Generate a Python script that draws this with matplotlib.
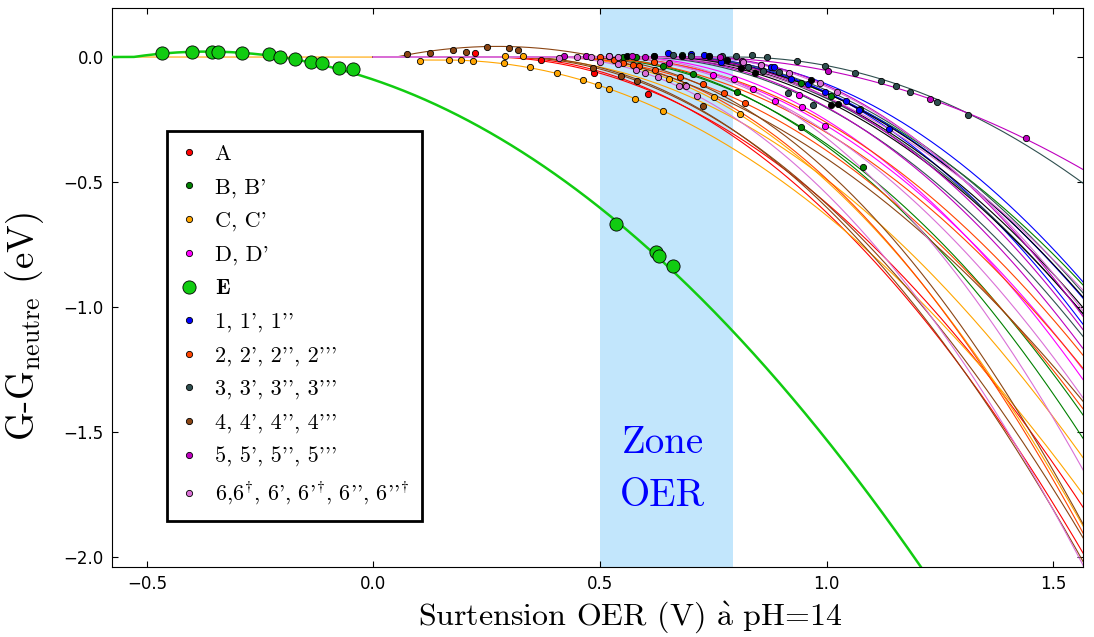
import numpy as np
import matplotlib
matplotlib.use("Agg")
import matplotlib.pyplot as plt
from matplotlib.lines import Line2D

plt.rcParams['mathtext.fontset'] = 'cm'
plt.rcParams['axes.unicode_minus'] = True

# legend groups
groups = ['A', 'B', 'C', 'D', 'E', '1', '2', '3', '4', '5', '6']
labels = ["A", "B, B'", "C, C'", "D, D'", r"$\mathbf{E}$", "1, 1', 1''",
          "2, 2', 2'', 2'''", "3, 3', 3'', 3'''", "4, 4', 4'', 4'''",
          "5, 5', 5'', 5'''",
          r"6,$6^{\dagger}$, 6', 6'$^{\dagger}$, 6'', 6''$^{\dagger}$"]
colors = {'A': 'red', 'B': 'green', 'C': 'orange', 'D': 'magenta', 'E': '#11cc11',
          '1': 'blue', '2': 'orangered', '3': 'darkslategray', '4': 'saddlebrown',
          '5': 'm', '6': 'orchid', 'k': 'black'}

# fitted curves: G = offset + slope*d - curv*d^2, d = max(x - onset, 0)
curve_group  = ['A', 'A', 'B', 'B', 'B', 'C', 'C', 'C', 'D', 'D',
                '1', '1', '1', '2', '2', '2', '2', '3', '3', '3', '3',
                'k', 'k', 'k', '4', '4', '4', '4', '5', '5', '5', '5',
                '6', '6', '6', '6', '6']
curve_start  = [0.0, 0.0, 0.0, 0.0, 0.0, 0.102, 0.0, -0.58, 0.0, 0.0,
                0.0, 0.0, 0.0, 0.0, 0.0, 0.0, 0.0, 0.0, 0.0, 0.0, 0.0,
                0.0, 0.0, 0.0, 0.03, 0.0, 0.0, 0.0, 0.0, 0.0, 0.0, 0.0,
                0.0, 0.0, 0.0, 0.0, 0.0]
curve_onset  = [0.25, 0.28, 0.47, 0.625, 0.45, 0.157, 0.40, 0.30, 0.50, 0.55,
                0.70, 0.676, 0.65, 0.397, 0.50, 0.45, 0.42, 0.80, 0.58, 0.62, 0.66,
                0.64, 0.62, 0.60, 0.05, 0.30, 0.32, 0.45, 0.70, 0.72, 0.65, 0.60,
                0.39, 0.705, 0.60, 0.50, 0.55]
curve_curv   = [1.04, 1.20, 1.27, 1.03, 1.15, 0.875, 1.38, 1.00, 1.10, 1.25,
                1.20, 1.35, 1.15, 1.03, 1.05, 1.00, 1.45, 0.86, 1.15, 1.15, 1.15,
                1.12, 1.12, 1.10, 0.85, 1.20, 1.30, 1.50, 0.60, 1.45, 1.30, 1.25,
                1.47, 1.37, 1.00, 1.20, 1.60]
curve_slope  = [0.0] * 24 + [0.38] + [0.0] * 12
curve_offset = [0.0] * 5 + [-0.012] + [0.0] * 31

# curve E
E_onset, E_slope, E_curv = -0.53, 0.269, 0.83

# data points per group
pts_x = {
    'A': [0.225, 0.37, 0.486, 0.605],
    'B': [0.55, 0.58, 0.68, 0.638, 0.705, 0.803, 0.944, 1.009, 1.074, 0.944, 1.08],
    'C': [0.102, 0.166, 0.194, 0.219, 0.289, 0.346, 0.405, 0.462, 0.496, 0.52, 0.578, 0.64,
          0.653, 0.688, 0.751, 0.808, 0.29, 0.33],
    'D': [0.796, 0.837, 0.887, 0.945, 0.996, 0.938, 0.75],
    'E': [-0.466, -0.40, -0.356, -0.344, -0.29, -0.23, -0.207, -0.173, -0.137, -0.113,
          -0.077, -0.046, 0.536, 0.623, 0.631, 0.662],
    '1': [0.65, 0.70, 0.73, 0.767, 0.878, 0.885, 0.922, 0.959, 0.996, 1.042, 1.071, 1.138],
    '2': [0.55, 0.572, 0.587, 0.619, 0.622, 0.676, 0.727, 0.773, 0.821, 0.50, 0.53],
    '3': [0.62, 0.66, 0.70, 0.74, 0.77, 0.80, 0.835, 0.868, 0.935, 0.996, 1.062, 1.121,
          1.154, 1.185, 1.244, 1.313, 0.826, 0.86, 0.896, 0.915, 0.97],
    'k': [0.56, 0.62, 0.68, 0.74, 0.78, 0.811, 0.843, 0.966, 1.009, 1.025],
    '4': [0.075, 0.124, 0.175, 0.205, 0.25, 0.298, 0.32, 0.484, 0.547, 0.581, 0.727],
    '5': [0.42, 0.47, 0.52, 0.57, 0.60, 0.653, 0.764, 0.814, 0.855, 1.003, 1.229, 1.441],
    '6': [0.41, 0.45, 0.48, 0.52, 0.54, 0.499, 0.539, 0.58, 0.60, 0.628, 0.675, 0.69,
          0.715, 0.815, 0.856, 0.918, 0.985, 1.022],
}
pts_y = {
    'A': [0.016, -0.012, -0.065, -0.149],
    'B': [0.002, 0.0, 0.01, -0.036, -0.068, -0.141, -0.105, -0.156, -0.208, -0.281, -0.44],
    'C': [-0.016, -0.012, -0.012, -0.016, -0.025, -0.04, -0.063, -0.092, -0.11, -0.128,
          -0.168, -0.215, -0.088, -0.113, -0.161, -0.228, 0.003, 0.004],
    'D': [-0.088, -0.128, -0.175, -0.199, -0.276, -0.152, -0.072],
    'E': [0.015, 0.019, 0.021, 0.019, 0.015, 0.011, 0.001, -0.009, -0.021, -0.025,
          -0.045, -0.049, -0.668, -0.78, -0.796, -0.836],
    '1': [0.015, 0.012, 0.01, -0.019, -0.039, -0.041, -0.089, -0.108, -0.139, -0.175,
          -0.212, -0.288],
    '2': [-0.025, -0.033, -0.036, -0.02, -0.052, -0.079, -0.109, -0.145, -0.185, 0.002, -0.01],
    '3': [0.006, 0.008, 0.006, 0.005, 0.006, 0.004, 0.008, -0.001, -0.015, -0.036, -0.064,
          -0.096, -0.116, -0.139, -0.179, -0.232, -0.041, -0.055, -0.061, -0.145, -0.192],
    'k': [0.003, 0.005, 0.004, 0.003, -0.01, -0.045, -0.065, -0.092, -0.192, -0.188],
    '4': [0.012, 0.016, 0.028, 0.02, 0.04, 0.036, 0.028, -0.045, -0.077, -0.096, -0.196],
    '5': [0.003, 0.005, 0.006, 0.004, 0.002, -0.025, 0.001, -0.016, -0.032, -0.056,
          -0.167, -0.324],
    '6': [-0.004, 0.0, 0.002, 0.004, 0.002, -0.019, -0.028, -0.052, -0.065, -0.081,
          -0.116, -0.116, -0.156, -0.02, -0.032, -0.063, -0.105, -0.139],
}

fig = plt.figure(figsize=(10.94, 6.37), dpi=100)
ax = fig.add_axes([0.1024, 0.110, 0.8876, 0.8774])

ax.axvspan(0.5, 0.794, color='lightskyblue', alpha=0.5, lw=0, zorder=0)
ax.text(0.638, -1.65, 'Zone\nOER', color='blue', fontsize=28, family='cmr10',
        ha='center', va='center', linespacing=1.6)

for g, x0, on, cv, sl, off in zip(curve_group, curve_start, curve_onset, curve_curv,
                                  curve_slope, curve_offset):
    xs = np.linspace(x0, 1.6, 300)
    d = np.clip(xs - on, 0, None)
    ax.plot(xs, off + sl * d - cv * d ** 2, color=colors[g], lw=0.8, zorder=2)

xs = np.linspace(-0.6, 1.3, 400)
d = np.clip(xs - E_onset, 0, None)
ax.plot(xs, E_slope * d - E_curv * d ** 2, color=colors['E'], lw=1.8, zorder=3)

for g in pts_x:
    ms = 9.5 if g == 'E' else 4.5
    ax.plot(pts_x[g], pts_y[g], 'o', color=colors[g], ms=ms, mec='black', mew=0.6,
            zorder=4 if g != 'E' else 5)

ax.set_xlim(-0.577, 1.566)
ax.set_ylim(-2.04, 0.196)
ax.set_xticks([-0.5, 0.0, 0.5, 1.0, 1.5])
ax.set_yticks([-2.0, -1.5, -1.0, -0.5, 0.0])
ax.set_xticklabels(['\u22120.5', '0.0', '0.5', '1.0', '1.5'])
ax.set_yticklabels(['\u22122.0', '\u22121.5', '\u22121.0', '\u22120.5', '0.0'])
ax.tick_params(direction='in', top=True, right=True, length=4, width=0.8,
               labelsize=12, pad=6)

ax.set_xlabel(r"Surtension OER (V) $\grave{\mathrm{a}}$ pH=14", family='cmr10',
              fontsize=23)
ax.xaxis.set_label_coords(0.534, -0.058)
ax.set_ylabel(r"G-G$_{\mathrm{neutre}}$ (eV)", family='cmr10', fontsize=26.5)
ax.yaxis.set_label_coords(-0.068, 0.43)

handles = []
for g in groups:
    ms = 9.5 if g == 'E' else 4.5
    handles.append(Line2D([], [], ls='none', marker='o', color=colors[g], ms=ms,
                          mec='black', mew=0.6))
leg = ax.legend(handles, labels, loc='upper left', bbox_to_anchor=(0.0566, 0.78),
                prop={'family': 'cmr10', 'size': 16}, numpoints=1, fancybox=False,
                framealpha=1, edgecolor='black', labelspacing=0.62, handlelength=0.8,
                handletextpad=0.75, borderpad=0.6, borderaxespad=0)
leg.get_frame().set_linewidth(2)

fig.savefig('out.png', dpi=100)
